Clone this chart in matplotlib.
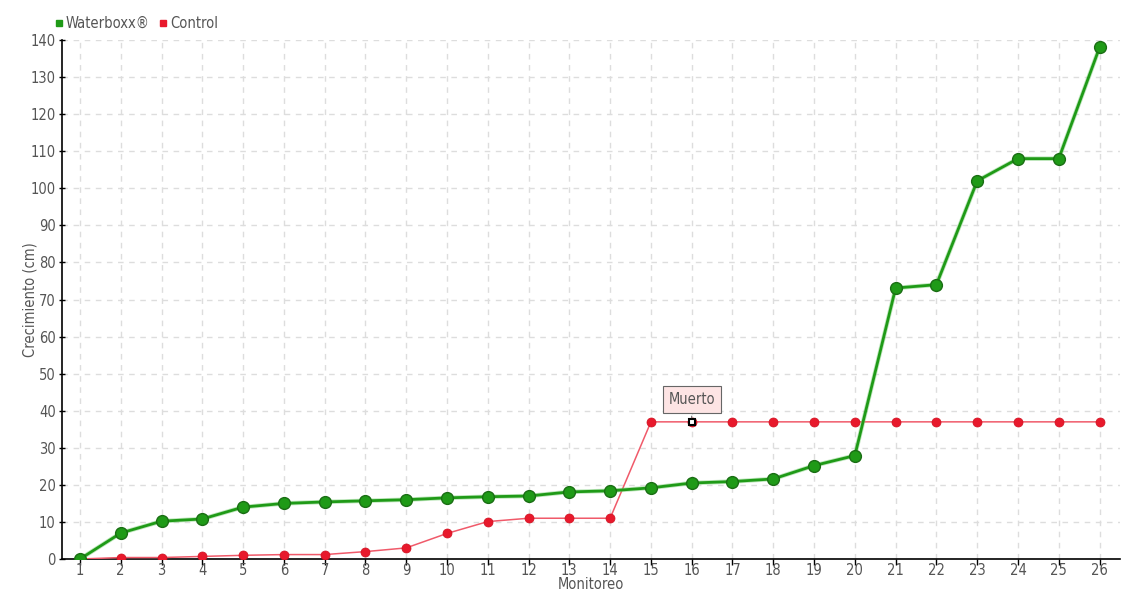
import numpy as np
import matplotlib.pyplot as plt
from matplotlib.lines import Line2D

plt.rcParams['font.family'] = ['DejaVu Sans']
plt.rcParams['font.stretch'] = 'condensed'

monitoreo = list(range(1, 27))
waterboxx = [0, 7, 10.2, 10.8, 14, 15, 15.4, 15.7, 16, 16.5, 16.8, 17, 18.1, 18.4, 19.2,
             20.5, 20.9, 21.6, 25.2, 27.9, 73.1, 74, 102, 108, 108, 138]
control = [0, 0.4, 0.4, 0.7, 1, 1.2, 1.2, 2, 3, 6.9, 10.1, 11, 11, 11, 37,
           37, 37, 37, 37, 37, 37, 37, 37, 37, 37, 37]
y_ticks = list(range(0, 141, 10))
note_idx = 15
note_text = "Muerto"

green = "#1f9a17"
red = "#e8192c"
txt = "#555555"

fig = plt.figure(figsize=(11.4, 6), dpi=100)
ax = fig.add_axes([0.0544, 0.0683, 0.928, 0.865])

x = np.array(monitoreo)
ax.plot(x, control, color="#f05a6a", lw=1.1, zorder=3)
ax.plot(x, control, ls="", marker="o", ms=6.5, mfc=red, mec="#d01020", mew=0.5, zorder=3)
ax.plot(x, waterboxx, color="#7fd07a", lw=3.2, alpha=0.5, zorder=3)
ax.plot(x, waterboxx, color=green, lw=2, marker="o", ms=8.5, mfc=green, mec="#1a6e14",
        mew=1.0, zorder=4)

# marcador de la anotación
ax.plot(x[note_idx], control[note_idx], marker="s", ms=5, mfc="white", mec="black",
        mew=1.5, zorder=5)
ax.annotate(note_text, xy=(x[note_idx], control[note_idx]), xytext=(0, 16),
            textcoords="offset points", ha="center", va="center", fontsize=10.5, color=txt,
            bbox=dict(boxstyle="square,pad=0.4", fc="#fde4e4", ec="#666666", lw=0.8),
            arrowprops=dict(arrowstyle="-", color="#666666", lw=0.8, shrinkB=3), zorder=6)

ax.set_xlim(0.56, 26.5)
ax.set_ylim(0, 140)
ax.set_xticks(monitoreo)
ax.set_yticks(y_ticks)
ax.grid(True, color="#dddddd", ls=(0, (4, 4)), lw=1)
ax.set_axisbelow(True)
for s in ["top", "right"]:
    ax.spines[s].set_visible(False)
ax.spines["left"].set_linewidth(1.2)
ax.spines["bottom"].set_linewidth(1.2)
ax.tick_params(axis="both", labelsize=10.5, labelcolor=txt, length=5, width=1)
ax.tick_params(axis="y", direction="inout", pad=2)
ax.tick_params(axis="x", length=4, pad=-1)
ax.set_xlabel("Monitoreo", fontsize=10.5, color=txt)
ax.set_ylabel("Crecimiento (cm)", fontsize=10.5, color=txt)
ax.xaxis.set_label_coords(0.5, -0.05)
ax.yaxis.set_label_coords(-0.03, 0.5)
ax.xaxis.label.set_va("center")
ax.yaxis.label.set_va("center")

handles = [Line2D([], [], ls="", marker="s", ms=5, color=green, label="Waterboxx®"),
           Line2D([], [], ls="", marker="s", ms=5, color=red, label="Control")]
fig.legend(handles=handles, loc="upper left", bbox_to_anchor=(0.036, 0.995), ncol=2,
           frameon=False, fontsize=10.5, handlelength=0.6, handletextpad=0.2,
           columnspacing=0.6, labelcolor=txt)

fig.savefig("out.png", dpi=100)
